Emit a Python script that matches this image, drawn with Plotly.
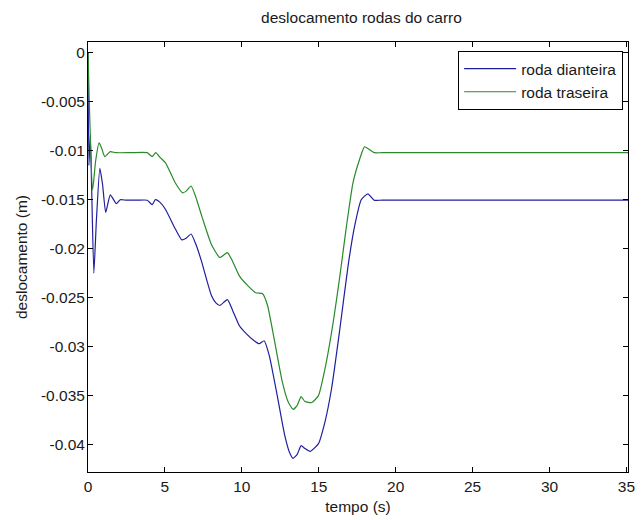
import plotly.graph_objects as go

# Vertical displacement of the car wheels over time
t_front = [0, 0.06, 0.15, 0.24, 0.38, 0.55, 0.77, 0.95, 1.15, 1.45, 1.84, 2.1, 2.5, 3.2,
           3.85, 4.17, 4.38, 4.7, 5.04, 5.68, 6.1, 6.4, 6.7, 7.0, 7.4, 7.7, 8.03,
           8.3, 8.57, 9.06, 9.4, 9.85, 10.3, 10.8, 11.13, 11.45, 11.78, 12.3,
           12.78, 13.1, 13.33, 13.6, 13.85, 14.1, 14.44, 14.98, 15.4, 15.83,
           16.37, 16.9, 17.33, 17.76, 18.19, 18.6, 19.1, 20.0, 28.0, 35.1]
y_front = [0, -0.0115, -0.0084, -0.014, -0.0225, -0.017, -0.0118, -0.0135, -0.0163,
           -0.0145, -0.0154, -0.015, -0.01505, -0.01505, -0.01505, -0.0155, -0.015, -0.0153,
           -0.016, -0.018, -0.0191, -0.0189, -0.0185, -0.0195, -0.0214, -0.0231,
           -0.0248, -0.0255, -0.0258, -0.0252, -0.0263, -0.0279, -0.0287, -0.0294,
           -0.0297, -0.0294, -0.0309, -0.035, -0.039, -0.0408, -0.0414, -0.041,
           -0.0401, -0.0404, -0.0407, -0.0399, -0.0377, -0.0343, -0.0282, -0.0218,
           -0.0177, -0.015, -0.0144, -0.01505, -0.01505, -0.01505, -0.01505, -0.01505]

t_rear = [0, 0.1, 0.3, 0.5, 0.72, 0.9, 1.09, 1.45, 1.8, 2.8, 3.85, 4.17, 4.4, 4.7, 5.04,
          5.68, 6.15, 6.4, 6.7, 7.0, 7.4, 8.03, 8.57, 9.06, 9.4, 9.85, 10.4, 10.9,
          11.35, 11.67, 12.1, 12.63, 13.0, 13.33, 13.6, 13.85, 14.1, 14.55, 14.98,
          15.4, 15.94, 16.37, 16.8, 17.22, 17.65, 17.97, 18.3, 18.6, 19.1, 20.0, 28.0, 35.1]
y_rear = [0, -0.006, -0.014, -0.011, -0.0092, -0.0098, -0.0106, -0.0101, -0.0102,
          -0.0102, -0.0102, -0.0106, -0.0102, -0.0107, -0.01125, -0.0133, -0.0143, -0.0141,
          -0.0136, -0.0147, -0.0167, -0.0196, -0.0209, -0.0204, -0.0213, -0.0228,
          -0.0238, -0.0245, -0.0246, -0.0258, -0.0292, -0.0336, -0.0356, -0.0364,
          -0.036, -0.0351, -0.0356, -0.0357, -0.035, -0.0323, -0.0275, -0.0228,
          -0.0177, -0.0133, -0.0109, -0.0096, -0.0099, -0.0102, -0.0102, -0.0102,
          -0.0102, -0.0102]

x_ticks = [0, 5, 10, 15, 20, 25, 30, 35]
y_ticks = [0, -0.005, -0.01, -0.015, -0.02, -0.025, -0.03, -0.035, -0.04]
y_tick_text = ["0", "-0.005", "-0.01", "-0.015", "-0.02", "-0.025", "-0.03", "-0.035", "-0.04"]

FONT = "Liberation Sans, Arial, sans-serif"
FS = 15.5
TXT = "#1a1a1a"

fig = go.Figure()
fig.add_trace(go.Scatter(x=t_front, y=y_front, mode="lines", name="roda dianteira",
                         line=dict(color="#1f1f9e", width=1.2, shape="spline", smoothing=0.5)))
fig.add_trace(go.Scatter(x=t_rear, y=y_rear, mode="lines", name="roda traseira",
                         line=dict(color="#2a8a2a", width=1.2, shape="spline", smoothing=0.5)))

axis_common = dict(showline=True, linecolor="black", linewidth=1, mirror="ticks",
                   ticks="inside", ticklen=5, tickcolor="black", showgrid=False,
                   zeroline=False, tickfont=dict(family=FONT, size=FS, color=TXT))

fig.update_layout(
    width=643, height=520,
    margin=dict(l=88, r=8, t=42, b=47),
    paper_bgcolor="white", plot_bgcolor="white",
    title=dict(text="deslocamento rodas do carro", x=(88 + 635) / 2 / 643, xanchor="center",
               y=1 - 18 / 520, yanchor="middle",
               font=dict(family=FONT, size=FS, color=TXT)),
    xaxis=dict(range=[0, 35.1], tickvals=x_ticks, ticktext=[str(v) for v in x_ticks],
               ticklabelstandoff=0,
               title=dict(text="tempo (s)", standoff=7, font=dict(family=FONT, size=FS, color=TXT)),
               **axis_common),
    yaxis=dict(range=[-0.0428, 0.0011], tickvals=y_ticks, ticktext=y_tick_text,
               ticklabelstandoff=-1,
               title=dict(text="deslocamento (m)", standoff=9, font=dict(family=FONT, size=FS, color=TXT)),
               **axis_common),
    legend=dict(x=0.991, xanchor="right", y=0.979, yanchor="top",
                bgcolor="white", bordercolor="black", borderwidth=1,
                itemwidth=52,
                font=dict(family=FONT, size=FS, color=TXT),
                tracegroupgap=0),
    showlegend=True,
)

fig.write_html("out.html")
